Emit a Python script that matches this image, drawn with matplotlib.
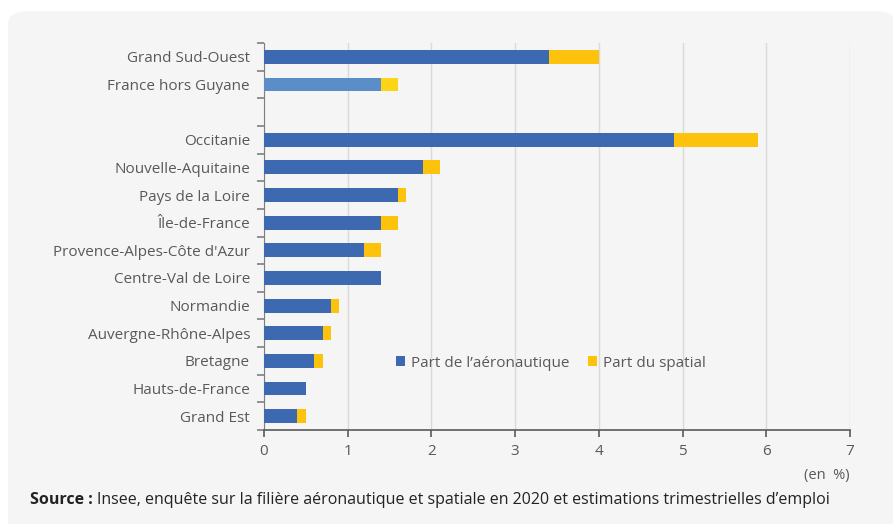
import matplotlib.pyplot as plt
from matplotlib.patches import FancyBboxPatch

plt.rcParams["font.family"] = ["Open Sans", "DejaVu Sans"]

regions = [
    "Grand Sud-Ouest", "France hors Guyane", "",
    "Occitanie", "Nouvelle-Aquitaine", "Pays de la Loire", "Île-de-France",
    "Provence-Alpes-Côte d'Azur", "Centre-Val de Loire", "Normandie",
    "Auvergne-Rhône-Alpes", "Bretagne", "Hauts-de-France", "Grand Est",
]
aero = [3.4, 1.4, 0, 4.9, 1.9, 1.6, 1.4, 1.2, 1.4, 0.8, 0.7, 0.6, 0.5, 0.4]
spatial = [0.6, 0.2, 0, 1.0, 0.2, 0.1, 0.2, 0.2, 0.0, 0.1, 0.1, 0.1, 0.0, 0.1]

BLUE = "#3d69b0"
YELLOW = "#fdc20c"
TEXT = "#595959"

blue_colors = [BLUE] * len(regions)
yellow_colors = [YELLOW] * len(regions)
blue_colors[1] = "#5b8ec8"
yellow_colors[1] = "#fcd616"

fig = plt.figure(figsize=(8.93, 5.24), dpi=100)
fig.patch.set_facecolor("white")
panel = FancyBboxPatch((8 / 893, -0.05), 0.995, 1 - 11 / 524 + 0.05,
                       boxstyle="round,pad=0,rounding_size=0.025",
                       transform=fig.transFigure, facecolor="#f5f5f5",
                       edgecolor="none", zorder=-5)
fig.patches.append(panel)

ax = fig.add_axes([264 / 893, 1 - 430 / 524, 586 / 893, 387 / 524])
ax.set_facecolor("none")
ax.set_zorder(2)

y = list(range(len(regions)))
ax.barh(y, aero, height=0.5, color=blue_colors, label="Part de l’aéronautique", zorder=3)
ax.barh(y, spatial, left=aero, height=0.5, color=yellow_colors, label="Part du spatial", zorder=3)

ax.set_xlim(0, 7)
ax.set_ylim(len(regions) - 0.5, -0.5)
ax.set_xticks(range(8))
ax.xaxis.grid(True, color="#d9d9d9", linewidth=1, zorder=0)
ax.set_axisbelow(True)

ax.set_yticks(y)
ax.set_yticklabels(regions)
ax.set_yticks([i - 0.5 for i in range(len(regions) + 1)], minor=True)
ax.tick_params(axis="y", which="major", length=0, pad=10, labelsize=11, labelcolor=TEXT)
ax.tick_params(axis="y", which="minor", length=5, width=1.2, color="#7f7f7f")
ax.tick_params(axis="x", length=5, width=1.2, color="#595959", labelsize=11,
               labelcolor=TEXT, pad=5)

for s in ["top", "right"]:
    ax.spines[s].set_visible(False)
ax.spines["left"].set_color("#7f7f7f")
ax.spines["bottom"].set_color("#595959")
ax.spines["bottom"].set_linewidth(1.2)

ax.legend(loc="center left", bbox_to_anchor=(0.201, 0.173), ncol=2, frameon=False,
          fontsize=11, labelcolor=TEXT, handlelength=0.6, handleheight=0.6,
          handletextpad=0.4, columnspacing=1.2)

fig.text(850 / 893, 1 - 475 / 524, "(en  %)", ha="right", va="center",
         fontsize=10.5, color=TEXT)
fig.text(30 / 893, 1 - 500 / 524, "Source :", ha="left", va="center",
         fontsize=11.5, fontweight="bold", color="#222222")
fig.text(97 / 893, 1 - 500 / 524,
         "Insee, enquête sur la filière aéronautique et spatiale en 2020 et estimations trimestrielles d’emploi",
         ha="left", va="center", fontsize=11.5, color="#222222")

fig.savefig("out.png", dpi=100)
